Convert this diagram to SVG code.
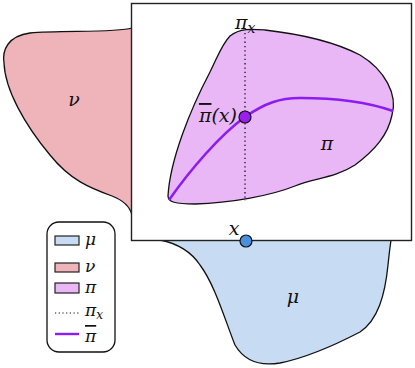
<svg xmlns="http://www.w3.org/2000/svg" width="415" height="368" viewBox="0 0 415 368">
<style>
.m{font-family:"DejaVu Serif","Liberation Serif",serif;font-style:italic;font-size:19px;fill:#111}
.ml{font-family:"DejaVu Serif","Liberation Serif",serif;font-style:italic;font-size:17px;fill:#111}
.reg{stroke:#111;stroke-width:1.3}
.ob{text-decoration:overline}
</style>
<g id="nu">
<path class="reg" fill="#efb3ba" d="M132 28 C115 33 60 30 30 33 C8 36 2 50 4 63 C5 90 25 125 50 155 C70 180 90 188 112 196 C125 201 130 207 132 215 Z"/>
<text class="m" x="74" y="106" text-anchor="middle">ν</text>
</g>
<g id="mu">
<path class="reg" fill="#c7dcf3" d="M160 240 C175 243 190 250 200 265 C215 285 225 320 235 345 C245 362 262 366 280 363 C305 358 335 345 360 332 C378 320 385 295 388 265 C389 255 390 247 391 240 Z"/>
<text class="m" x="293" y="303" text-anchor="middle">μ</text>
</g>
<g id="box">
<rect x="131.5" y="3.5" width="280" height="237" fill="#fff" stroke="#222" stroke-width="1.4"/>
</g>
<g id="pi">
<path class="reg" fill="#e9b7f5" d="M265 30 C300 34 335 42 360 55 C385 70 398 95 392 115 C388 135 375 150 355 165 C335 178 315 178 295 186 C270 196 230 203 195 204 C175 204 168 202 168 196 C170 160 190 110 210 72 C217 58 222 44 230 36 C240 28 252 29 265 30 Z"/>
<text class="m" x="327" y="150" text-anchor="middle">π</text>
</g>
<g id="connectors">
<line x1="245" y1="33" x2="245" y2="201" stroke="#111" stroke-width="1.3" stroke-dasharray="1.3 3"/>
<path d="M169 200 C190 170 220 135 245 117 C265 103 280 98 300 98 C340 98 370 103 393 111" fill="none" stroke="#8b1cf2" stroke-width="2.6"/>
</g>
<g id="pix">
<text class="m" x="235" y="29">π<tspan font-size="14" dy="4">x</tspan></text>
</g>
<g id="pibar">
<circle cx="245" cy="117" r="6" fill="#9a1eee" stroke="#111" stroke-width="1.2"/>
<text class="m" x="237" y="122" text-anchor="end"><tspan class="ob">π</tspan>(x)</text>
</g>
<g id="x">
<circle cx="246" cy="241" r="6" fill="#4a8fdf" stroke="#111" stroke-width="1.2"/>
<text class="m" x="234" y="235" text-anchor="middle">x</text>
</g>
<g id="legend">
<rect x="47" y="222" width="68" height="130" rx="12" fill="#fff" stroke="#111" stroke-width="1.3"/>
<rect x="55" y="236" width="24" height="9" fill="#c7dcf3" stroke="#222" stroke-width="1.2"/>
<rect x="55" y="263" width="24" height="9" fill="#efb3ba" stroke="#222" stroke-width="1.2"/>
<rect x="55" y="283" width="24" height="10" fill="#e9b7f5" stroke="#222" stroke-width="1.2"/>
<line x1="55" y1="313" x2="79" y2="313" stroke="#111" stroke-width="1.2" stroke-dasharray="1.2 2.5"/>
<line x1="55" y1="334" x2="79" y2="334" stroke="#8b1cf2" stroke-width="2.4"/>
<text class="ml" x="85" y="245">μ</text>
<text class="ml" x="85" y="272">ν</text>
<text class="ml" x="85" y="293">π</text>
<text class="ml" x="85" y="316">π<tspan font-size="12" dy="3">x</tspan></text>
<text class="ml" x="85" y="342"><tspan class="ob">π</tspan></text>
</g>
</svg>
